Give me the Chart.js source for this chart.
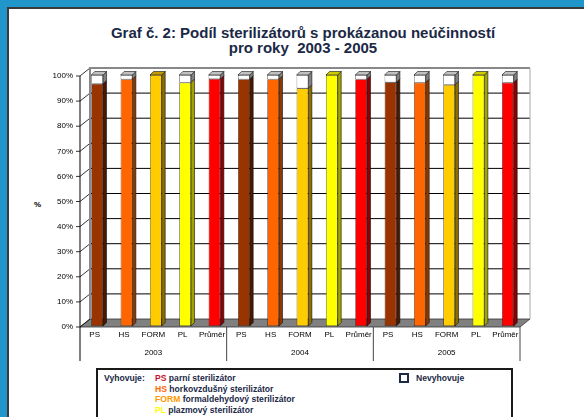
<!DOCTYPE html>
<html>
<head>
<meta charset="utf-8">
<script src="https://cdn.jsdelivr.net/npm/chart.js@4"></script>
<style>
  html, body { margin: 0; padding: 0; }
  body { width: 584px; height: 417px; background: #2196ca; position: relative; overflow: hidden; font-family: "Liberation Sans", Arial, sans-serif; }
  .panel { position: absolute; left: 7px; top: 7px; right: 0; bottom: 0; background: #fff; border-left: 2px solid #3a3a3a; border-top: 2px solid #3a3a3a; }
  .title { position: absolute; left: 0; top: 25px; width: 606px; text-align: center; font-weight: bold; font-size: 15px; line-height: 15px; color: #1b2946; }
  .pct { position: absolute; left: 34px; top: 200px; font-size: 8px; font-weight: bold; color: #000; }
  canvas { position: absolute; left: 0; top: 0; }
  .legend { position: absolute; left: 96px; top: 368px; width: 413px; height: 60px; border: 2px solid #1a1a1a; background: #fff; font-size: 8.6px; font-weight: bold; color: #1b2946; }
  .legend .lab { position: absolute; left: 6px; top: 3px; }
  .legend .rows { position: absolute; left: 57px; top: 3px; line-height: 10.5px; }
  .legend .box { position: absolute; left: 301px; top: 3px; width: 6px; height: 6px; border: 2px solid #1b2946; }
  .legend .nevt { position: absolute; left: 318px; top: 3px; }
</style>
</head>
<body>
<div class="panel"></div>
<div class="title">Graf č. 2: Podíl sterilizátorů s prokázanou neúčinností<br>pro roky&nbsp; 2003 - 2005</div>
<div class="pct">%</div>
<canvas id="c" width="584" height="417"></canvas>
<div class="legend">
  <div class="lab">Vyhovuje:</div>
  <div class="rows">
    <div><span style="color:#c8102e">PS</span> parní sterilizátor</div>
    <div><span style="color:#ff6600">HS</span> horkovzdušný sterilizátor</div>
    <div><span style="color:#ff9900">FORM</span> formaldehydový sterilizátor</div>
    <div><span style="color:#ffff00">PL</span> plazmový sterilizátor</div>
  </div>
  <div class="box"></div>
  <div class="nevt">Nevyhovuje</div>
</div>
<script>
const types = ['PS', 'HS', 'FORM', 'PL', 'Průměr'];
const years = ['2003', '2004', '2005'];
const categories = [].concat(...years.map(() => types));
const yearLabels = ['', '', '2003', '', '', '', '', '2004', '', '', '', '', '2005', '', ''];

// % vyhovuje / nevyhovuje per year
const vyhovuje = [
  96.5, 98.3, 100, 97.0, 98.4,
  98.3, 98.3, 94.7, 100, 98.3,
  97.1, 97.0, 96.1, 100, 97.0
];
const nevyhovuje = [
  3.5, 1.7, 0, 3.0, 1.6,
  1.7, 1.7, 5.3, 0, 1.7,
  2.9, 3.0, 3.9, 0, 3.0
];
const yTicks = [0, 10, 20, 30, 40, 50, 60, 70, 80, 90, 100];

const faceColors = ['#993300', '#ff6600', '#ffcc00', '#ffff00', '#ff0000'];
const sideColors = ['#4a1800', '#8c3800', '#8a6e00', '#a3a300', '#8b0000'];
const capColors = ['#6e2400', '#c24e00', '#c29b00', '#cccc00', '#c00000'];

const DX = 10, DY = -8;   // back wall offset
const BD = 3.5;           // bar depth
const SHIFT_X = 2.5, SHIFT_Y = -1; // bars sit a bit behind the front plane

const wall = {
  id: 'wall',
  beforeDatasetsDraw(chart) {
    const { ctx, chartArea: a, scales } = chart;
    const y = scales.y;
    const y0 = y.getPixelForValue(0);
    ctx.save();
    // floor
    ctx.fillStyle = '#808080';
    ctx.strokeStyle = '#333';
    ctx.lineWidth = 0.8;
    ctx.beginPath();
    ctx.moveTo(a.left, y0); ctx.lineTo(a.right, y0);
    ctx.lineTo(a.right + DX, y0 + DY); ctx.lineTo(a.left + DX, y0 + DY);
    ctx.closePath(); ctx.fill(); ctx.stroke();
    // gridlines on back wall + diagonal ticks
    yTicks.forEach(v => {
      const py = y.getPixelForValue(v);
      if (v > 0 && v < 100) {
        ctx.strokeStyle = '#000'; ctx.lineWidth = 1;
        ctx.beginPath(); ctx.moveTo(a.left + DX, py + DY); ctx.lineTo(a.right + DX, py + DY); ctx.stroke();
      }
      ctx.strokeStyle = '#000'; ctx.lineWidth = 0.8;
      ctx.beginPath(); ctx.moveTo(a.left - 4, py); ctx.lineTo(a.left, py); ctx.lineTo(a.left + DX, py + DY); ctx.stroke();
    });
    // wall edges
    const yt = y.getPixelForValue(100) + DY;
    ctx.strokeStyle = '#888'; ctx.lineWidth = 2;
    ctx.beginPath(); ctx.moveTo(a.left + DX, y0 + DY); ctx.lineTo(a.left + DX, yt); ctx.lineTo(a.right + DX, yt); ctx.stroke();
    ctx.lineWidth = 1; ctx.strokeStyle = '#aaa';
    ctx.beginPath(); ctx.moveTo(a.right + DX, yt); ctx.lineTo(a.right + DX, y0 + DY); ctx.stroke();
    // front axis and table lines
    const xs = scales.x;
    const bottom = scales.x2.bottom;
    ctx.strokeStyle = '#000'; ctx.lineWidth = 1;
    ctx.beginPath(); ctx.moveTo(a.left, y.getPixelForValue(100)); ctx.lineTo(a.left, bottom); ctx.stroke();
    ctx.strokeStyle = '#444';
    [5, 10, 15].forEach(i => {
      const px = i === 15 ? a.right : (xs.getPixelForValue(i - 1) + xs.getPixelForValue(i)) / 2;
      ctx.beginPath(); ctx.moveTo(px, y0); ctx.lineTo(px, bottom); ctx.stroke();
    });
    ctx.restore();
    ctx.save();
    ctx.translate(SHIFT_X, SHIFT_Y);
  },
  afterDatasetsDraw(chart) {
    const { ctx } = chart;
    const n = categories.length;
    ctx.strokeStyle = '#111';
    ctx.lineWidth = 0.6;
    for (let i = 0; i < n; i++) {
      const segs = [0, 1].map(d => chart.getDatasetMeta(d).data[i]);
      const vals = [vyhovuje[i], nevyhovuje[i]];
      segs.forEach((b, d) => {
        if (vals[d] <= 0) return;
        const xr = b.x + b.width / 2;
        ctx.fillStyle = d === 0 ? sideColors[i % 5] : '#808080';
        ctx.beginPath();
        ctx.moveTo(xr, b.y); ctx.lineTo(xr + BD, b.y - BD);
        ctx.lineTo(xr + BD, b.base - BD); ctx.lineTo(xr, b.base);
        ctx.closePath(); ctx.fill(); ctx.stroke();
      });
      const topD = vals[1] > 0 ? 1 : 0;
      const t = segs[topD];
      const xl = t.x - t.width / 2, xr = t.x + t.width / 2;
      ctx.fillStyle = topD === 1 ? '#c0c0c0' : capColors[i % 5];
      ctx.beginPath();
      ctx.moveTo(xl, t.y); ctx.lineTo(xl + BD, t.y - BD);
      ctx.lineTo(xr + BD, t.y - BD); ctx.lineTo(xr, t.y);
      ctx.closePath(); ctx.fill(); ctx.stroke();
    }
    ctx.restore();
  }
};

const font = { family: '"Liberation Sans", Arial, sans-serif', size: 8 };

new Chart(document.getElementById('c'), {
  type: 'bar',
  data: {
    labels: categories,
    datasets: [
      {
        label: 'Vyhovuje',
        data: vyhovuje,
        backgroundColor: categories.map((c, i) => faceColors[i % 5]),
        borderColor: '#111',
        borderWidth: 0.6,
        borderSkipped: false
      },
      {
        label: 'Nevyhovuje',
        data: nevyhovuje,
        backgroundColor: '#ffffff',
        borderColor: '#111',
        borderWidth: 0.6,
        borderSkipped: false
      }
    ]
  },
  options: {
    responsive: false,
    animation: false,
    layout: { padding: { top: 76, left: 0, right: 64, bottom: 56 } },
    plugins: { legend: { display: false }, tooltip: { enabled: false } },
    datasets: { bar: { categoryPercentage: 1, barPercentage: 0.4 } },
    scales: {
      x: {
        stacked: true,
        grid: { display: false, drawTicks: false },
        border: { display: false },
        ticks: { autoSkip: false, maxRotation: 0, padding: 3, color: '#000', font },
        afterFit: s => { s.height = 17; }
      },
      x2: {
        type: 'category',
        labels: yearLabels,
        position: 'bottom',
        grid: { display: false, drawTicks: false },
        border: { display: false },
        ticks: { autoSkip: false, maxRotation: 0, padding: 4, color: '#000', font },
        afterFit: s => { s.height = 17; }
      },
      y: {
        stacked: true,
        min: 0,
        max: 100,
        grid: { display: false, drawTicks: false },
        border: { display: false },
        ticks: { stepSize: 10, padding: 7, color: '#000', font, callback: v => v + '%' },
        afterFit: s => { s.width = 80; }
      }
    }
  },
  plugins: [wall]
});
</script>
</body>
</html>
